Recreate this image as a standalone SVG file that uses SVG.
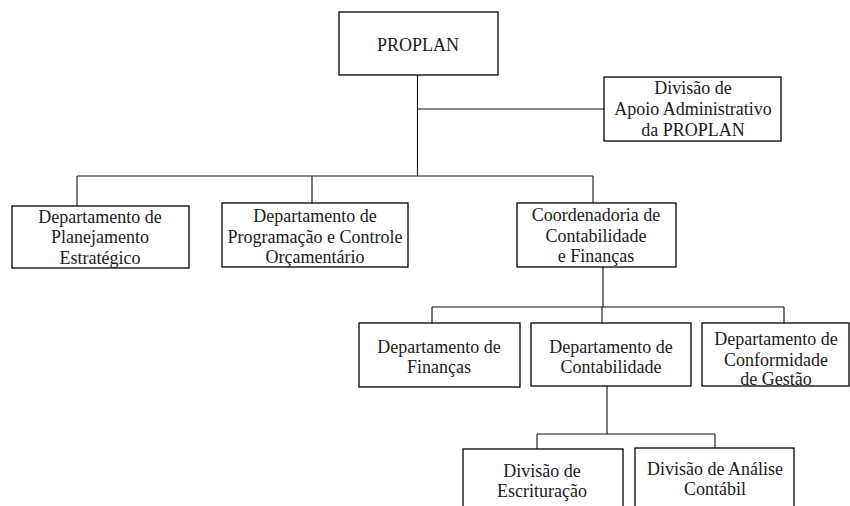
<svg xmlns="http://www.w3.org/2000/svg" width="850" height="506" viewBox="0 0 850 506">
  <style>
    .box { fill: #fff; stroke: #000; stroke-width: 1.3; }
    .lbl { font-family: "Liberation Serif", "Times New Roman", serif; font-size: 18px; fill: #1a1a1a; text-anchor: middle; }
    .wire { fill: none; stroke: #111; stroke-width: 1.1; }
  </style>
  <rect width="850" height="506" fill="#fff"/>

  <!-- connectors -->
  <g id="connectors">
    <path class="wire" d="M417.5 75 V176 M417.5 109 H604"/>
    <path class="wire" d="M77 176 H593 M77 176 V206 M312 176 V203 M593 176 V203"/>
    <path class="wire" d="M603 267 V307 M432 307 H784 M432 307 V323 M602 307 V323 M784 307 V323"/>
    <path class="wire" d="M607 386 V434 M537 434 H715 M537 434 V449 M715 434 V448"/>
  </g>

  <g id="proplan">
    <rect class="box" x="339" y="12" width="159" height="63"/>
    <text class="lbl" x="418" y="51">PROPLAN</text>
  </g>

  <g id="divisao-apoio">
    <rect class="box" x="604" y="77" width="177" height="64"/>
    <text class="lbl" x="693" y="94">Divisão de</text>
    <text class="lbl" x="693" y="115">Apoio Administrativo</text>
    <text class="lbl" x="693" y="136">da PROPLAN</text>
  </g>

  <g id="dep-planejamento">
    <rect class="box" x="12" y="206" width="177" height="62"/>
    <text class="lbl" x="100" y="223">Departamento de</text>
    <text class="lbl" x="100" y="243">Planejamento</text>
    <text class="lbl" x="100" y="264">Estratégico</text>
  </g>

  <g id="dep-programacao">
    <rect class="box" x="222" y="203" width="186" height="64"/>
    <text class="lbl" x="315" y="222">Departamento de</text>
    <text class="lbl" x="315" y="243">Programação e Controle</text>
    <text class="lbl" x="315" y="263">Orçamentário</text>
  </g>

  <g id="coord-contabilidade-financas">
    <rect class="box" x="517" y="203" width="159" height="64"/>
    <text class="lbl" x="596" y="221">Coordenadoria de</text>
    <text class="lbl" x="596" y="242">Contabilidade</text>
    <text class="lbl" x="596" y="262">e Finanças</text>
  </g>

  <g id="dep-financas">
    <rect class="box" x="359" y="323" width="161" height="64"/>
    <text class="lbl" x="439" y="353">Departamento de</text>
    <text class="lbl" x="439" y="373">Finanças</text>
  </g>

  <g id="dep-contabilidade">
    <rect class="box" x="531" y="323" width="160" height="63"/>
    <text class="lbl" x="611" y="353">Departamento de</text>
    <text class="lbl" x="611" y="373">Contabilidade</text>
  </g>

  <g id="dep-conformidade">
    <rect class="box" x="702" y="323" width="147" height="63"/>
    <text class="lbl" x="776" y="345">Departamento de</text>
    <text class="lbl" x="776" y="366">Conformidade</text>
    <text class="lbl" x="776" y="385">de Gestão</text>
  </g>

  <g id="div-escrituracao">
    <rect class="box" x="463" y="449" width="160" height="70"/>
    <text class="lbl" x="542" y="477">Divisão de</text>
    <text class="lbl" x="542" y="497">Escrituração</text>
  </g>

  <g id="div-analise">
    <rect class="box" x="635" y="448" width="159" height="70"/>
    <text class="lbl" x="715" y="475">Divisão de Análise</text>
    <text class="lbl" x="715" y="495">Contábil</text>
  </g>
</svg>
